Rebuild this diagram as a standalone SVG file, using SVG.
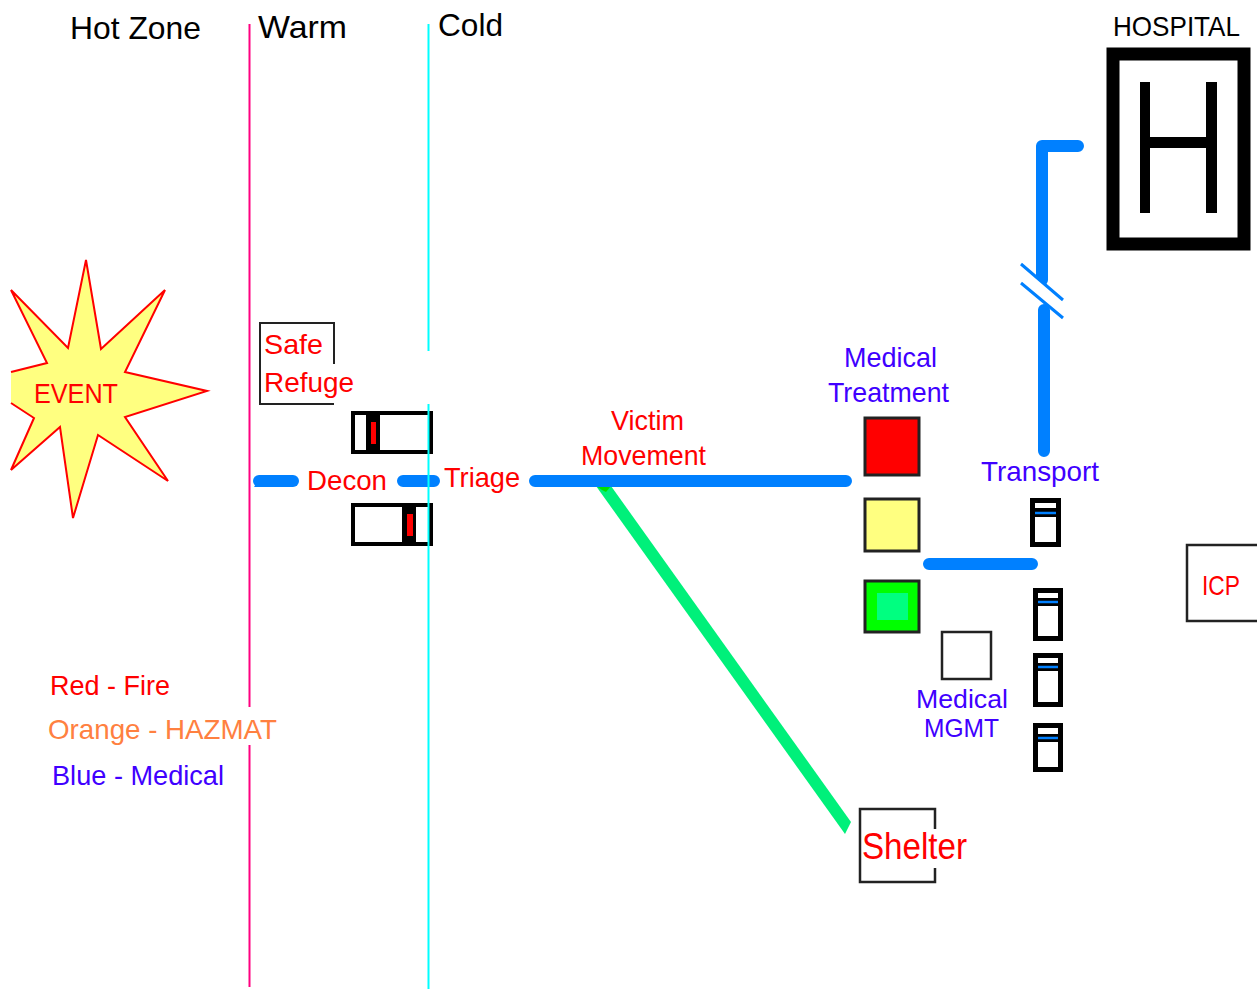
<svg xmlns="http://www.w3.org/2000/svg" width="1257" height="989" viewBox="0 0 1257 989">
<style>
text{font-family:"Liberation Sans",Arial,sans-serif;font-size:28px}
.r{fill:#ff0000}.b{fill:#4000ff}.k{fill:#000}.o{fill:#ff8040}
.box{fill:#fff;stroke:#222;stroke-width:2.500}
.sq{stroke:#222;stroke-width:3}
.amb{fill:#fff;stroke:#000;stroke-width:5}
.blue{fill:none;stroke:#0080ff;stroke-width:12;stroke-linecap:round;stroke-linejoin:round}
.band{fill:#000}
.stripe{stroke:#0080ff;stroke-width:2.500}
.cut{stroke:#0080ff;stroke-width:3;fill:none}
</style>
<rect width="1257" height="989" fill="#fff"/>
<g id="connectors">
<path d="M249.500 24V707M249.500 745V987" stroke="#ff0080" stroke-width="2" fill="none"/>
<line x1="428.500" y1="24" x2="428.500" y2="351" stroke="#00ffff" stroke-width="2"/>
<polygon points="596,486 611,486 851,822 845,834" fill="#00f07a"/>
<polygon points="596,486 611,486 606,492 602,490" fill="#00e000"/>
<path class="blue" d="M259 481H293"/>
<path d="M254 487L262 475H270V487Z" fill="#0080ff"/>
<path class="blue" d="M403 481H434M535 481H846"/>
<path class="blue" d="M1078 146H1042V280M1044 310V451M929 564H1032"/>
<path d="M1017 269L1067 311" stroke="#fff" stroke-width="13" fill="none"/>
<path d="M1021 264L1063 300M1021 283L1063 318" class="cut"/>
</g>
<g id="zones">
<text x="70" y="39" class="k" textLength="131" lengthAdjust="spacingAndGlyphs" style="font-size:32px">Hot Zone</text>
<text x="258" y="38" class="k" textLength="89" lengthAdjust="spacingAndGlyphs" style="font-size:32px">Warm</text>
<text x="438" y="36" class="k" textLength="65" lengthAdjust="spacingAndGlyphs" style="font-size:32px">Cold</text>
</g>
<g id="event">
<polygon points="86,260 101,349 165,290 125,372 207,391 125,417 168,481 98,435 73,518 60,427 11,470 34,418 11,403 11,372 47,363 11,290 68,348" fill="#ffff80"/>
<polyline points="11,372 47,363 11,290 68,348 86,260 101,349 165,290 125,372 207,391 125,417 168,481 98,435 73,518 60,427 11,470 34,418 11,403" fill="none" stroke="#ff0000" stroke-width="2"/>
<text x="34" y="403" class="r" textLength="84" lengthAdjust="spacingAndGlyphs">EVENT</text>
</g>
<g id="safe-refuge">
<path d="M334 364V323H260V404H334" fill="none" stroke="#222" stroke-width="2"/>
<text x="264" y="354" class="r" textLength="59" lengthAdjust="spacingAndGlyphs">Safe</text>
<text x="264" y="392" class="r" textLength="90" lengthAdjust="spacingAndGlyphs">Refuge</text>
</g>
<g id="decon">
<text x="307" y="490" class="r" textLength="80" lengthAdjust="spacingAndGlyphs">Decon</text>
<rect x="353" y="413" width="78" height="39" fill="#fff" stroke="#000" stroke-width="4"/>
<rect x="366" y="413" width="14" height="39" class="band"/>
<rect x="371" y="422" width="5" height="22" fill="#f00"/>
<rect x="353" y="505" width="78" height="39" fill="#fff" stroke="#000" stroke-width="4"/>
<rect x="402" y="505" width="14" height="39" class="band"/>
<rect x="407" y="514" width="6" height="22" fill="#f00"/>
</g>
<line x1="428.500" y1="404" x2="428.500" y2="989" stroke="#00ffff" stroke-width="2"/>
<g id="triage"><text x="444" y="487" class="r" textLength="76" lengthAdjust="spacingAndGlyphs">Triage</text></g>
<g id="victim-movement">
<text x="611" y="430" class="r" textLength="73" lengthAdjust="spacingAndGlyphs">Victim</text>
<text x="581" y="465" class="r" textLength="125" lengthAdjust="spacingAndGlyphs">Movement</text>
</g>
<g id="medical-treatment">
<text x="844" y="367" class="b" textLength="93" lengthAdjust="spacingAndGlyphs">Medical</text>
<text x="828" y="402" class="b" textLength="121" lengthAdjust="spacingAndGlyphs">Treatment</text>
<rect x="865" y="418" width="54" height="57" fill="#f00" class="sq"/>
<rect x="865" y="499" width="54" height="52" fill="#ffff80" class="sq"/>
<rect x="865" y="581" width="54" height="51" fill="#00ff00" class="sq"/>
<rect x="877" y="593" width="31" height="27" fill="#00ff80"/>
</g>
<g id="medical-mgmt">
<rect x="942" y="632" width="49" height="47" class="box"/>
<text x="916" y="708" class="b" textLength="92" lengthAdjust="spacingAndGlyphs" style="font-size:25px">Medical</text>
<text x="924" y="737" class="b" textLength="75" lengthAdjust="spacingAndGlyphs" style="font-size:25px">MGMT</text>
</g>
<g id="transport">
<text x="981" y="481" class="b" textLength="118" lengthAdjust="spacingAndGlyphs">Transport</text>
<rect x="1032.500" y="500.500" width="26" height="44" class="amb"/><rect x="1032" y="508" width="27" height="9" class="band"/><path d="M1035 513H1056" class="stripe"/>
<rect x="1035.500" y="590.500" width="25" height="48" class="amb"/><rect x="1035" y="598" width="26" height="8" class="band"/><path d="M1038 602H1058" class="stripe"/>
<rect x="1035.500" y="655.500" width="25" height="49" class="amb"/><rect x="1035" y="663" width="26" height="8" class="band"/><path d="M1038 667H1058" class="stripe"/>
<rect x="1035.500" y="725.500" width="25" height="44" class="amb"/><rect x="1035" y="734" width="26" height="8" class="band"/><path d="M1038 738H1058" class="stripe"/>
</g>
<g id="icp">
<rect x="1187" y="545" width="72" height="76" class="box"/>
<text x="1202" y="595" class="r" textLength="38" lengthAdjust="spacingAndGlyphs">ICP</text>
</g>
<g id="hospital">
<text x="1113" y="36" class="k" textLength="127" lengthAdjust="spacingAndGlyphs">HOSPITAL</text>
<rect x="1113" y="54" width="131" height="190" fill="#fff" stroke="#000" stroke-width="13"/>
<path d="M1140 82H1150V137H1206V82H1217V213H1206V148H1150V213H1140Z" fill="#000"/>
</g>
<g id="shelter">
<path d="M935 868V882H860V809H935V829" fill="none" stroke="#222" stroke-width="2.500"/>
<text x="862" y="859" class="r" textLength="105" lengthAdjust="spacingAndGlyphs" style="font-size:36px">Shelter</text>
</g>
<g id="legend">
<text x="50" y="695" class="r" textLength="120" lengthAdjust="spacingAndGlyphs">Red - Fire</text>
<text x="48" y="739" class="o" textLength="229" lengthAdjust="spacingAndGlyphs">Orange - HAZMAT</text>
<text x="52" y="785" class="b" textLength="172" lengthAdjust="spacingAndGlyphs">Blue - Medical</text>
</g>
</svg>
